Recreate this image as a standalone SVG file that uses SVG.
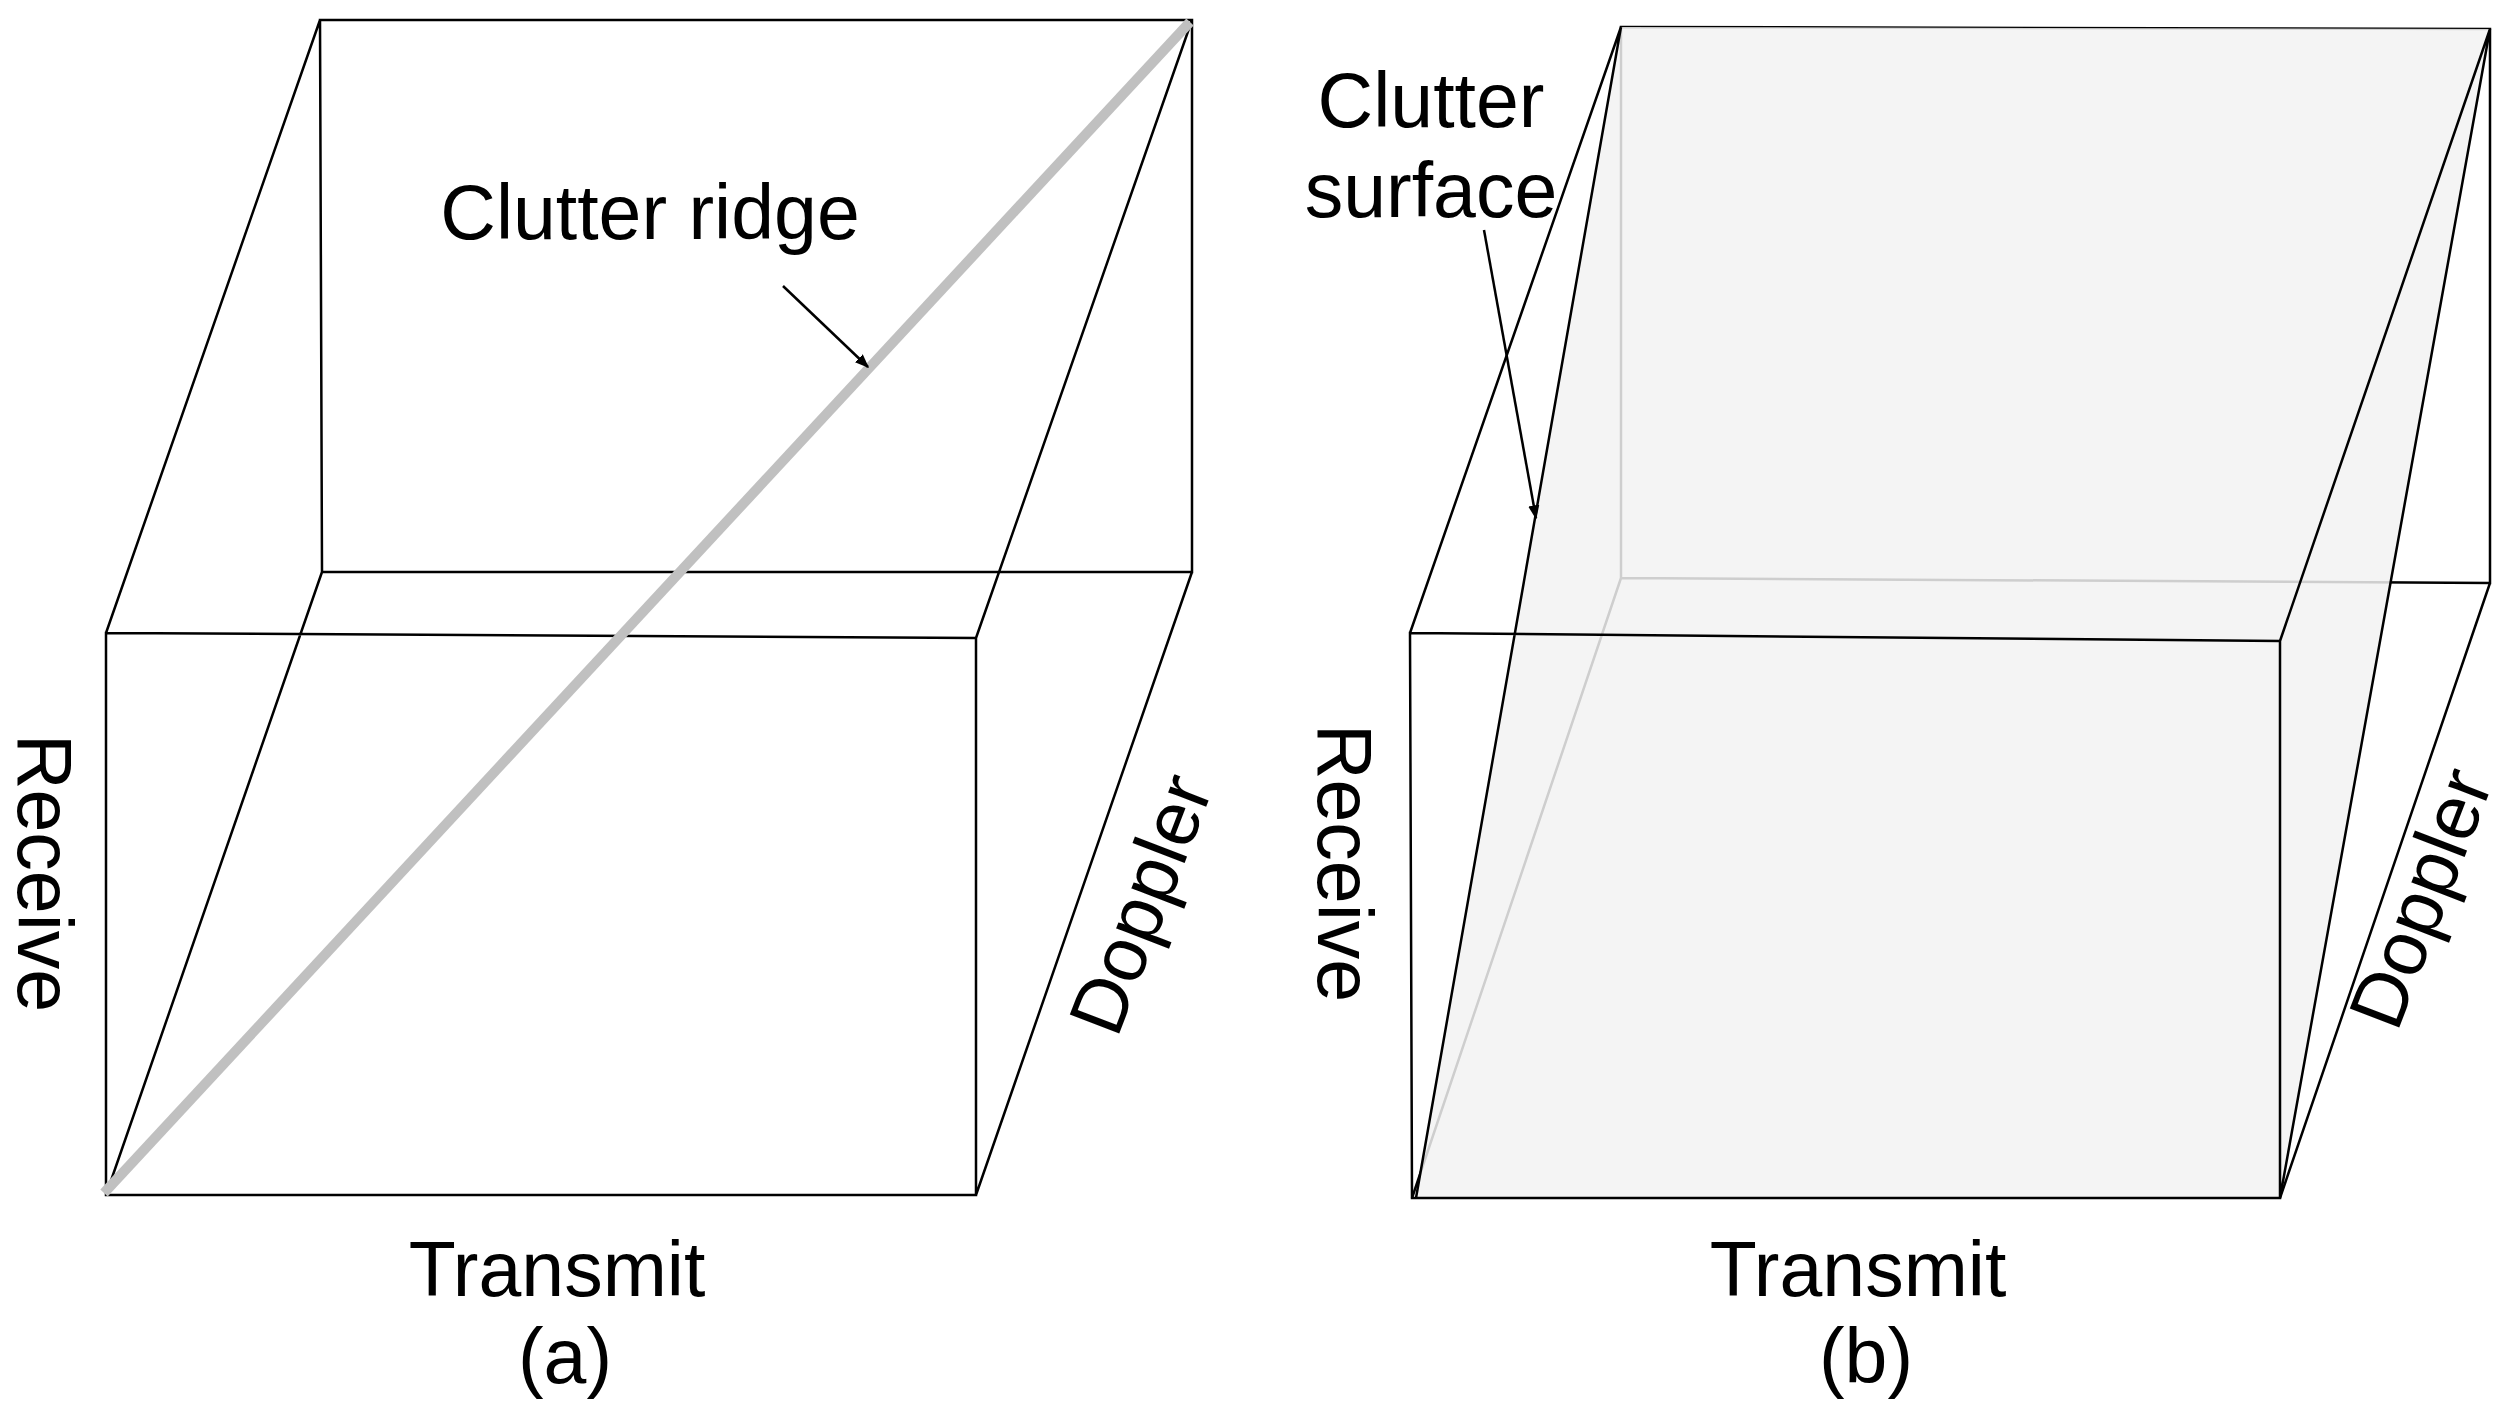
<svg xmlns="http://www.w3.org/2000/svg" width="2513" height="1412" viewBox="0 0 2513 1412">
<style>
.l{stroke:#000;stroke-width:2.5;fill:none}
.t{font-family:"Liberation Sans",Arial,sans-serif;font-size:77px;fill:#000;text-anchor:middle}
</style>
<defs>
<marker id="ah2" viewBox="0 0 10 10" refX="9" refY="5" markerWidth="14" markerHeight="14" orient="auto" markerUnits="userSpaceOnUse"><path d="M0,1 L10,5 L0,9 z" fill="#000"/></marker></defs>
<rect width="2513" height="1412" fill="#fff"/>
<g id="panel-a">
<path class="l" d="M320,20 L1192,20 L1192,572 L322,572 Z M106,633 L320,20 M976,638 L1192,20 M106,1195 L322,572 M976,1195 L1192,572 M106,633 L976,638 L976,1195 L106,1195 Z"/>
<line x1="104" y1="1193" x2="1190" y2="22" stroke="#c0c0c0" stroke-width="10"/>
<text class="t" x="650" y="239">Clutter ridge</text>
<text class="t" x="557" y="1296">Transmit</text>
<text class="t" x="565" y="1383">(a)</text>
<text class="t" transform="translate(45,873) rotate(90)" y="27">Receive</text>
<text class="t" transform="translate(1140,904) rotate(-69)" y="27">Doppler</text>
</g>
<g id="panel-b">
<path class="l" d="M1621,27 L2490,29 L2490,583 L1621,578 Z M1412,1198 L1621,578 M2280,1198 L2490,583"/>
<polygon points="1416,1198 2280,1198 2490,29 1621,27" fill="#f2f2f2" fill-opacity="0.85"/>
<path class="l" d="M1416,1198 L1621,27 M2280,1198 L2490,29 M1410,633 L2280,641 L2280,1198 L1412,1198 Z M1410,633 L1621,27 M2280,641 L2490,29"/>
<text class="t" x="1431" y="127">Clutter</text>
<text class="t" x="1431" y="217">surface</text>
<text class="t" x="1858" y="1296">Transmit</text>
<text class="t" x="1866" y="1383">(b)</text>
<text class="t" transform="translate(1345,863) rotate(90)" y="27">Receive</text>
<text class="t" transform="translate(2420,898) rotate(-69)" y="27">Doppler</text>
</g>
<g id="connectors">
<line x1="783" y1="286" x2="868" y2="367" stroke="#000" stroke-width="2.5" marker-end="url(#ah2)"/>
<line x1="1484" y1="230" x2="1536" y2="518" stroke="#000" stroke-width="2.5" marker-end="url(#ah2)"/>
</g>
</svg>
